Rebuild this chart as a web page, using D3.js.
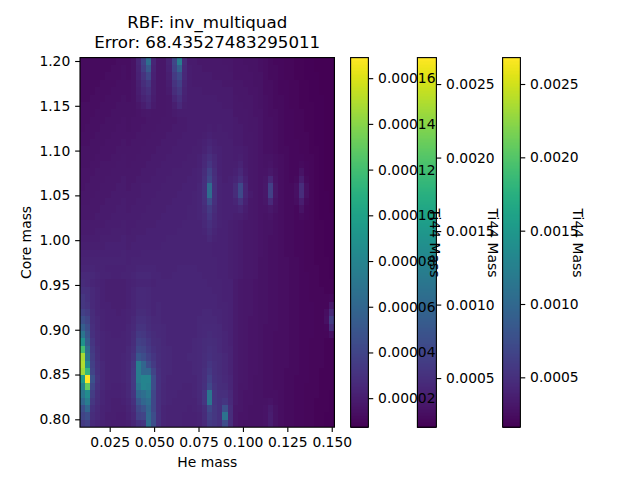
<!DOCTYPE html>
<html><head><meta charset="utf-8">
<script src="https://cdn.jsdelivr.net/npm/d3@7"></script>
<style>
html,body{margin:0;padding:0;background:#fff}
svg{display:block}
text{font-family:"DejaVu Sans";fill:#000}
</style></head><body><svg id="c" width="640" height="480"></svg>
<script>
const titleLines = ["RBF: inv_multiquad", "Error: 68.43527483295011"];
const xLabel = "He mass", yLabel = "Core mass", barLabel = "Ti44 Mass";
const xTicks = [0.025,0.05,0.075,0.1,0.125,0.15];
const yTicks = [0.8,0.85,0.9,0.95,1.0,1.05,1.1,1.15,1.2];
const bar1Ticks = [0.00002,0.00004,0.00006,0.00008,0.0001,0.00012,0.00014,0.00016];
const bar2Ticks = [0.0005,0.001,0.0015,0.002,0.0025];
const bar3Ticks = [0.0005,0.001,0.0015,0.002,0.0025];
const xDomain = [0.00828,0.1515], yDomain = [0.7912,1.2038];
const bar1Domain = [0.0000073,0.000169], bar2Domain = [0.000166,0.00268], bar3Domain = [0.000160,0.00268];
// Ti44 mass in millionths, bottom row first
const massRows = [
[35,38,26,24,22,21,20,20,20,21,24,30,32,65,45,30,24,23,23,23,22,22,22,23,26,34,32,30,44,28,18,16,15,15,15,15,16,20,15,13,12,12,11,11,10,10,9,9,8,8],
[40,45,28,25,23,21,21,20,20,22,25,38,40,62,45,30,24,23,23,23,22,22,22,23,27,37,33,30,68,28,18,16,16,15,15,15,16,20,15,13,12,12,11,11,10,10,9,9,8,8],
[45,60,30,26,23,22,21,21,21,23,27,42,48,60,42,29,24,23,23,23,23,22,23,24,28,42,33,30,47,28,18,17,16,15,15,15,16,19,15,13,12,12,11,11,10,10,9,9,9,8],
[60,75,33,27,24,22,21,21,22,24,30,50,60,65,42,29,25,24,23,23,23,23,23,25,32,70,32,30,32,26,19,17,16,16,15,15,15,16,14,13,12,12,11,11,10,10,9,9,9,8],
[70,85,36,28,24,22,22,22,23,25,32,60,65,72,42,29,25,24,24,23,23,23,24,26,32,70,32,29,29,25,19,17,16,16,15,15,14,14,14,13,12,12,11,11,10,10,10,9,9,8],
[80,130,42,30,25,23,22,22,23,25,34,70,80,78,45,30,25,24,24,24,23,23,24,26,30,42,31,28,27,24,19,17,17,16,15,15,14,14,13,13,12,12,11,11,10,10,10,9,9,9],
[95,169,48,31,25,23,23,23,24,26,35,75,80,80,45,30,26,24,24,24,24,24,24,26,29,38,30,28,26,24,19,18,17,16,15,15,14,14,13,13,12,12,11,11,11,10,10,9,9,9],
[145,115,40,30,25,23,23,23,24,26,34,75,60,60,40,29,26,25,24,24,24,24,25,26,29,34,29,27,25,23,19,18,17,16,16,15,14,14,13,13,12,12,12,11,11,10,10,9,9,9],
[150,85,38,29,25,23,23,23,24,26,33,75,60,45,35,28,26,25,24,24,24,24,25,26,28,32,29,27,25,23,19,18,17,16,16,15,14,14,13,13,13,12,12,11,11,10,10,10,9,9],
[148,70,36,28,24,23,23,23,24,25,31,50,45,38,32,28,26,25,24,24,24,25,25,26,28,30,28,27,25,23,19,18,17,16,16,15,14,14,13,13,13,12,12,11,11,10,10,10,9,9],
[120,65,34,27,24,23,23,23,23,25,29,42,40,34,30,27,26,25,24,24,24,24,25,26,27,29,28,26,24,23,19,18,17,16,16,15,14,14,13,13,13,12,12,11,11,10,10,10,9,9],
[90,55,32,26,24,23,23,23,23,24,28,38,36,32,28,27,25,24,24,24,24,24,25,26,27,28,27,26,24,22,19,18,17,16,16,15,14,14,13,13,13,12,12,11,11,10,10,10,9,9],
[70,50,30,26,24,23,22,22,23,24,27,34,33,30,27,26,25,24,24,24,24,24,24,25,26,27,26,25,24,22,19,18,17,16,16,15,14,14,13,13,13,12,12,11,11,11,10,10,10,14],
[55,45,29,25,23,22,22,22,22,24,26,31,31,28,26,26,25,24,24,24,24,24,24,25,26,26,26,25,23,22,19,18,17,16,16,15,14,14,14,13,13,12,12,11,11,11,10,10,11,28],
[45,40,28,25,23,22,22,22,22,23,25,29,29,27,25,25,24,24,24,24,24,24,24,25,25,25,25,24,23,22,19,18,17,16,16,15,15,14,14,13,13,12,12,11,11,11,10,10,14,36],
[38,35,27,24,23,22,22,21,22,23,24,27,27,26,24,25,24,24,24,24,24,24,24,24,25,25,24,24,23,22,19,18,17,17,16,15,15,14,14,13,13,12,12,11,11,11,10,10,13,26],
[33,31,26,24,22,22,21,21,21,22,24,26,26,25,24,25,24,24,24,24,24,24,24,24,24,24,24,23,23,22,19,18,17,17,16,15,15,14,14,13,13,12,12,11,11,11,10,10,10,18],
[33,30,26,24,22,21,21,21,21,22,24,26,26,25,24,24,24,24,24,24,24,24,24,24,24,24,24,23,22,22,19,18,17,17,16,15,15,14,14,13,13,12,12,11,11,10,10,10,10,11],
[30,29,26,24,22,21,21,21,21,22,24,26,26,25,24,24,24,24,24,24,24,24,24,24,24,24,23,23,22,22,19,18,17,17,16,15,15,14,14,13,13,12,12,11,11,10,10,10,9,9],
[27,26,24,23,22,21,21,21,21,22,23,24,24,24,23,24,24,24,24,24,24,24,24,24,24,23,23,23,22,22,19,18,17,17,16,15,15,14,14,13,13,12,12,11,11,10,10,9,9,9],
[26,26,25,24,23,23,22,22,23,23,24,25,25,25,24,24,23,23,24,24,24,24,24,24,23,23,23,22,22,21,20,19,18,18,17,15,15,14,14,13,13,12,12,11,11,10,10,9,9,8],
[24,24,24,23,23,22,22,22,22,23,23,24,24,24,24,23,23,23,23,24,24,24,24,23,23,23,23,22,22,21,20,19,18,18,17,15,15,14,14,13,13,12,12,11,10,10,10,9,9,8],
[23,23,23,23,23,23,23,23,23,22,23,23,23,23,23,23,23,23,23,23,23,23,23,23,23,23,23,22,22,21,20,19,18,18,17,15,15,14,14,13,13,12,12,11,10,10,9,9,9,8],
[22,22,22,22,22,22,22,22,23,22,22,22,23,23,23,23,23,23,23,23,23,23,23,23,23,23,22,22,22,21,20,19,18,18,17,16,15,14,14,13,12,12,11,11,10,10,9,9,8,8],
[21,21,21,21,21,22,22,22,22,21,22,22,22,22,22,22,23,23,23,23,23,23,23,23,23,23,22,22,22,21,20,19,18,18,17,16,15,14,14,13,12,12,11,11,10,10,9,9,8,8],
[20,20,20,20,21,21,21,21,22,21,21,22,22,22,22,22,22,23,23,23,23,23,23,23,23,25,23,22,22,21,20,19,18,18,17,16,15,14,14,13,12,12,11,11,10,10,9,9,8,8],
[19,19,19,20,20,20,21,21,21,20,21,21,21,22,22,22,22,22,22,23,23,23,23,23,24,27,24,22,22,21,20,19,18,18,17,16,15,15,14,13,12,12,11,11,10,10,9,9,8,8],
[19,19,19,19,19,20,20,20,21,20,20,21,21,21,21,22,22,22,22,22,23,23,23,23,25,29,25,23,22,21,20,19,18,18,17,16,15,15,14,13,12,12,11,11,10,10,9,9,8,8],
[18,18,18,19,19,19,20,20,20,20,20,20,21,21,21,21,22,22,22,22,22,23,23,24,26,32,26,23,22,22,21,21,19,18,17,16,15,16,14,13,12,12,11,12,11,10,9,8,8,8],
[18,18,18,18,19,19,19,20,20,19,20,20,20,21,21,21,21,22,22,22,22,23,23,24,27,35,27,23,22,22,22,24,20,18,17,16,16,18,15,13,12,12,11,15,11,10,9,8,8,7],
[17,17,18,18,18,19,19,19,20,19,19,20,20,20,21,21,21,21,22,22,22,22,23,24,29,44,29,23,22,22,24,31,22,18,17,16,17,26,16,13,12,12,13,20,12,10,9,8,8,7],
[17,17,17,18,18,18,19,19,19,19,19,19,20,20,20,21,21,21,21,22,22,22,23,24,30,64,30,23,22,22,27,43,24,19,17,16,18,38,17,13,12,12,14,28,14,10,9,8,8,7],
[16,17,17,17,18,18,18,19,19,18,19,19,20,20,20,20,21,21,21,21,22,22,22,24,30,64,30,23,22,22,27,43,24,18,17,16,18,38,17,13,12,12,14,28,14,10,9,8,7,7],
[16,16,17,17,17,18,18,18,19,18,18,19,19,19,20,20,20,21,21,21,21,22,22,23,29,42,29,23,21,22,24,29,22,18,17,16,17,25,16,13,12,11,12,20,12,10,9,8,7,7],
[16,16,16,17,17,17,18,18,18,18,18,18,19,19,19,20,20,20,21,21,21,21,22,23,28,38,28,22,21,21,22,25,20,18,17,16,16,18,15,13,12,11,11,15,11,10,9,8,7,7],
[15,15,16,16,17,17,17,18,18,17,18,18,18,19,19,19,20,20,20,20,21,21,21,22,26,32,26,22,21,21,21,23,19,18,17,16,15,16,14,13,12,11,11,12,11,10,9,8,7,7],
[15,15,15,16,16,16,17,17,18,17,17,18,18,18,19,19,19,20,20,20,20,21,21,22,25,29,25,22,21,21,20,21,19,18,17,16,15,15,14,13,12,11,11,11,10,10,9,8,7,7],
[15,15,15,15,16,16,16,17,17,17,17,17,18,18,18,19,19,19,20,20,20,20,21,21,23,26,23,22,21,21,20,20,19,18,17,16,14,14,13,12,12,11,11,10,10,9,9,8,7,7],
[14,14,15,15,15,16,16,16,17,16,17,17,17,18,18,18,19,19,19,20,20,20,20,21,22,24,22,21,21,21,19,19,18,18,17,16,14,14,13,12,11,11,11,10,10,9,8,8,7,7],
[14,14,14,15,15,15,16,16,16,16,16,17,17,17,18,18,18,19,19,19,20,20,20,20,21,22,21,21,21,20,19,19,18,18,17,16,14,14,13,12,11,11,10,10,10,9,8,8,7,7],
[13,14,14,14,15,15,15,16,16,15,16,16,17,17,17,18,18,18,19,19,19,20,20,20,20,21,20,21,20,20,19,19,18,17,17,16,14,14,13,12,11,11,10,10,9,9,8,8,7,7],
[13,13,14,14,14,15,15,15,16,15,16,16,16,17,17,17,18,18,18,19,19,20,20,20,20,20,20,20,20,20,19,18,18,17,17,16,14,14,13,12,11,11,10,10,9,9,8,8,7,7],
[13,13,13,14,14,14,15,15,15,15,15,16,17,18,17,17,17,18,19,20,20,20,20,20,20,20,20,20,20,20,18,18,18,17,16,16,14,13,13,12,11,11,10,10,9,9,8,8,7,7],
[13,13,13,13,14,14,14,15,15,15,15,17,20,24,19,17,17,18,21,26,21,20,20,20,20,20,20,20,19,19,18,18,17,17,16,15,14,13,12,12,11,10,10,9,9,9,8,8,7,7],
[12,12,13,13,13,14,14,14,15,14,15,19,23,26,20,17,17,18,24,29,22,20,20,20,20,20,20,19,19,19,18,17,17,17,16,15,14,13,12,12,11,10,10,9,9,8,8,8,7,7],
[12,12,12,13,13,13,14,14,14,14,15,20,25,29,21,17,17,19,28,33,23,20,20,20,19,19,19,19,19,19,17,17,17,16,16,15,13,13,12,11,11,10,10,9,9,8,8,7,7,7],
[12,12,12,12,13,13,13,14,14,14,15,21,28,33,21,17,17,20,31,37,24,20,19,19,19,19,19,19,18,18,17,17,16,16,15,15,13,13,12,11,11,10,10,9,9,8,8,7,7,7],
[12,12,12,12,12,13,13,13,14,13,15,22,31,41,22,17,17,21,35,43,25,20,19,19,19,19,18,18,18,18,16,16,16,16,15,15,13,12,12,11,10,10,9,9,8,8,8,7,7,7],
[12,12,12,12,12,12,13,13,14,13,15,23,36,52,23,17,17,22,39,56,26,20,19,19,18,18,18,18,18,17,16,16,16,15,15,14,13,12,12,11,10,10,9,9,8,8,7,7,7,7],
[12,12,12,12,12,12,12,13,13,13,15,24,39,65,24,17,17,23,41,75,27,19,19,18,18,18,18,18,17,17,16,16,15,15,15,14,13,12,11,11,10,10,9,9,8,8,7,7,7,7]
];

const L=80,R=334.4,T=57.6,B=427.2, LW=1.11, TL=4.86, FS=13.89;
const svg=d3.select("#c");
svg.append("rect").attr("width",640).attr("height",480).attr("fill","#fff");
const x=d3.scaleLinear().domain(xDomain).range([L,R]);
const y=d3.scaleLinear().domain(yDomain).range([B,T]);
const colBand=d3.scaleBand().domain(d3.range(massRows[0].length)).range([L,R]);
const rowBand=d3.scaleBand().domain(d3.range(massRows.length)).range([B,T]);
const color=d3.scaleSequential(d3.interpolateViridis).domain([bar1Domain[0]*1e6,bar1Domain[1]*1e6]);

const cells=massRows.flatMap((row,r)=>row.map((v,c)=>({r,c,v})));
svg.append("g").attr("shape-rendering","crispEdges").selectAll("rect").data(cells).join("rect")
 .attr("x",d=>colBand(d.c)).attr("y",d=>rowBand(d.r)-0.4)
 .attr("width",colBand.bandwidth()+0.4).attr("height",rowBand.bandwidth()+0.4)
 .attr("fill",d=>color(d.v));

function styleAxis(g){
 g.select(".domain").remove();
 g.selectAll(".tick line").attr("stroke","#000").attr("stroke-width",LW);
 g.selectAll(".tick text").attr("font-size",FS).attr("font-family","DejaVu Sans").attr("fill","#000");
}
const frame=(x0,y0,x1,y1)=>svg.append("rect").attr("x",x0).attr("y",y0).attr("width",x1-x0).attr("height",y1-y0)
 .attr("fill","none").attr("stroke","#000").attr("stroke-width",LW);

const textLayer=[];
function drawBar(x0,x1,domain,ticks,fmt,labelX){
 const s=d3.scaleLinear().domain(domain).range([B,T]);
 const n=256, step=(B-T)/n;
 svg.append("g").attr("shape-rendering","crispEdges").selectAll("rect").data(d3.range(n)).join("rect")
  .attr("x",x0).attr("width",x1-x0)
  .attr("y",i=>B-(i+1)*step).attr("height",step+0.5)
  .attr("fill",i=>d3.interpolateViridis((i+0.5)/n));
 frame(x0,T,x1,B);
 textLayer.push(()=>{
  const g=svg.append("g").attr("transform",`translate(${x1},0)`)
   .call(d3.axisRight(s).tickValues(ticks).tickFormat(d3.format(fmt)).tickSize(TL).tickPadding(4.86));
  styleAxis(g);
  svg.append("text").attr("transform",`translate(${labelX},243) rotate(90)`)
   .attr("text-anchor","middle").attr("dy","0.35em").attr("font-size",FS).text(barLabel);
 });
}
drawBar(350.6,368.4,bar1Domain,bar1Ticks,".5f",434.5);
drawBar(417.4,436.4,bar2Domain,bar2Ticks,".4f",492.8);
drawBar(502.6,520.4,bar3Domain,bar3Ticks,".4f",578);
textLayer.forEach(f=>f());

const gx=svg.append("g").attr("transform",`translate(0,${B})`)
 .call(d3.axisBottom(x).tickValues(xTicks).tickFormat(d3.format(".3f")).tickSize(TL).tickPadding(4.86));
styleAxis(gx);
const gy=svg.append("g").attr("transform",`translate(${L},0)`)
 .call(d3.axisLeft(y).tickValues(yTicks).tickFormat(d3.format(".2f")).tickSize(TL).tickPadding(4.86));
styleAxis(gy);
frame(L,T,R,B);

svg.append("text").attr("x",(L+R)/2).attr("y",467).attr("text-anchor","middle").attr("font-size",FS).text(xLabel);
svg.append("text").attr("transform",`translate(26,242.4) rotate(-90)`).attr("text-anchor","middle").attr("dy","0.35em").attr("font-size",FS).text(yLabel);
titleLines.forEach((t,i)=>svg.append("text").attr("x",(L+R)/2).attr("y",28+i*20).attr("text-anchor","middle").attr("font-size",16.67).text(t));
</script></body></html>
